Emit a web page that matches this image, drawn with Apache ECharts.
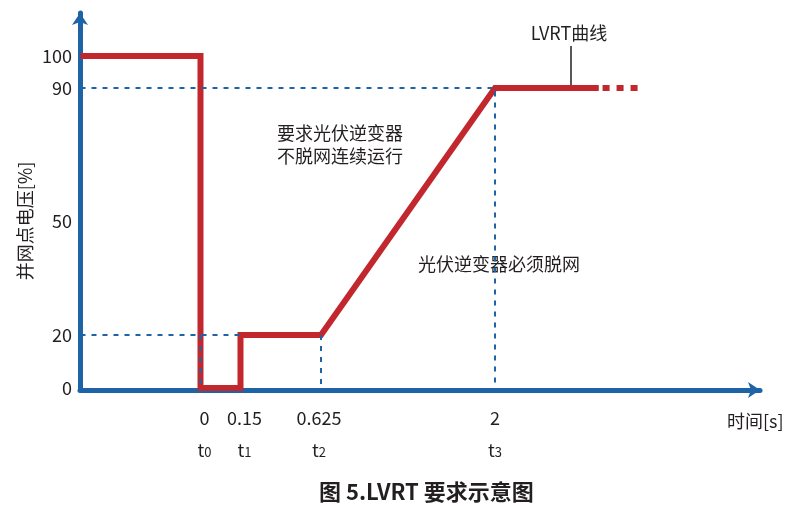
<!DOCTYPE html>
<html>
<head>
<meta charset="utf-8">
<script src="https://cdn.jsdelivr.net/npm/echarts@6/dist/echarts.min.js"></script>
<style>
html,body{margin:0;padding:0;background:#fff;}
#main{width:800px;height:507px;}
</style>
</head>
<body>
<div id="main"></div>
<script>
// tick labels
var timeTicks = [0, 0.15, 0.625, 2];
var timeTickText = ['0', '0.15', '0.625', '2'];
var timeTickSub = ['0', '1', '2', '3'];
var voltTicks = [0, 20, 50, 90, 100];

// LVRT curve: time [s], voltage [%]  (-0.45 = pre-fault, starts at the axis)
var lvrtT = [-0.45, 0, 0, 0.15, 0.15, 0.625, 2, 2.82];
var lvrtU = [100, 100, 0, 0, 20, 20, 90, 90];
var tailT = [2.85, 3.15];
var tailU = [90, 90];

// dashed guide lines
var guide90T = [-0.45, 2, 2];
var guide90U = [90, 90, 0];
var guide20T = [-0.45, 0.15];
var guide20U = [20, 20];
var guideT0T = [0, 0];
var guideT0U = [20, 0];
var guideT2T = [0.625, 0.625];
var guideT2U = [20, 0];

// the drawing is a sketch, not to scale: piecewise linear axes through the ticks
var timeAxisPos = [120.5, 160.5, 241, 415];
var voltAxisPos = [2, 55, 169, 302, 334];
var timeLabelShift = ['r', 'r', 'l', 'n'];

var blue = '#1d63a6';
var red = '#c1272d';
var ink = '#231f20';
var font = 'Noto Sans CJK SC';

function piece(v, ks, ps){
    var n = ks.length, i = 0;
    if (v >= ks[n-1]) i = n - 2;
    else if (v > ks[0]) { while (v > ks[i+1]) i++; }
    var r = ps[i] + (v - ks[i]) * (ps[i+1] - ps[i]) / (ks[i+1] - ks[i]);
    return Math.max(0, r);
}
function pts(ts, us){
    var out = [];
    for (var i = 0; i < ts.length; i++) {
        out.push([piece(ts[i], timeTicks, timeAxisPos), piece(us[i], voltTicks, voltAxisPos)]);
    }
    return out;
}
function findIdx(v, ps){
    for (var i = 0; i < ps.length; i++) if (Math.abs(ps[i] - v) < 0.5) return i;
    return -1;
}

var myChart = echarts.init(document.getElementById('main'));

function guide(ts, us){
    return {
        type: 'line',
        data: pts(ts, us),
        symbol: 'none',
        silent: true,
        z: 4,
        lineStyle: { color: blue, width: 2, type: [5, 6] }
    };
}

var richX = {};
['r', 'l', 'n'].forEach(function(k){
    var left = k == 'r' ? 8 : 0;
    var right = k == 'l' ? 4 : 0;
    richX['v' + k] = { fontFamily: font, fontSize: 18, color: ink, lineHeight: 32, padding: [0, right, 0, left] };
    richX['t' + k] = { fontFamily: font, fontSize: 18, color: ink, lineHeight: 32, padding: [0, 0, 0, left] };
    richX['s' + k] = { fontFamily: font, fontSize: 13, color: ink, lineHeight: 22, verticalAlign: 'middle', padding: [5, right, 0, 0] };
});

var option = {
    animation: false,
    backgroundColor: '#fff',
    textStyle: { fontFamily: font, color: ink },
    title: {
        text: '图 5.LVRT 要求示意图',
        left: 314,
        top: 476,
        textStyle: { fontFamily: font, fontSize: 22, fontWeight: 'bold', color: ink }
    },
    grid: { left: 80, right: 40, top: 13, bottom: 117 },
    xAxis: {
        type: 'value',
        min: 0,
        max: 680,
        splitLine: { show: false },
        axisTick: { show: false },
        axisLine: {
            lineStyle: { color: blue, width: 5 },
            symbol: ['none', 'arrow'],
            symbolSize: [12, 12]
        },
        axisLabel: {
            customValues: timeAxisPos,
            margin: 12,
            formatter: function(v){
                var i = findIdx(v, timeAxisPos);
                if (i < 0) return '';
                var k = timeLabelShift[i];
                return '{v' + k + '|' + timeTickText[i] + '}\n{t' + k + '|t}{s' + k + '|' + timeTickSub[i] + '}';
            },
            rich: richX
        }
    },
    yAxis: {
        type: 'value',
        min: 0,
        max: 377,
        splitLine: { show: false },
        axisTick: { show: false },
        axisLine: {
            lineStyle: { color: blue, width: 5 },
            symbol: ['none', 'arrow'],
            symbolSize: [12, 12]
        },
        axisLabel: {
            customValues: voltAxisPos,
            margin: 8,
            fontFamily: font,
            fontSize: 18,
            color: ink,
            formatter: function(v){
                var i = findIdx(v, voltAxisPos);
                return i < 0 ? '' : String(voltTicks[i]);
            }
        }
    },
    graphic: [
        { type: 'text', x: 25, y: 221, rotation: Math.PI / 2, style: { x: 0, y: 0, text: '并网点电压[%]', font: '18px "Noto Sans CJK SC"', fill: ink, textAlign: 'center', textVerticalAlign: 'middle' } },
        { type: 'text', style: { x: 569, y: 33, text: 'LVRT曲线', font: '18px "Noto Sans CJK SC"', fill: ink, textAlign: 'center', textVerticalAlign: 'middle' } },
        { type: 'line', shape: { x1: 571, y1: 46, x2: 571, y2: 86 }, style: { stroke: ink, lineWidth: 1.5 } },
        { type: 'text', style: { x: 277, y: 145, text: '要求光伏逆变器\n不脱网连续运行', font: '18px "Noto Sans CJK SC"', lineHeight: 23, fill: ink, textAlign: 'left', textVerticalAlign: 'middle' } },
        { type: 'text', style: { x: 418, y: 264, text: '光伏逆变器必须脱网', font: '18px "Noto Sans CJK SC"', fill: ink, textAlign: 'left', textVerticalAlign: 'middle' } },
        { type: 'text', style: { x: 727, y: 421, text: '时间[s]', font: '18px "Noto Sans CJK SC"', fill: ink, textAlign: 'left', textVerticalAlign: 'middle' } }
    ],
    series: [
        {
            name: 'LVRT曲线',
            type: 'line',
            data: pts(lvrtT, lvrtU),
            symbol: 'none',
            z: 3,
            lineStyle: { color: red, width: 6, join: 'miter', cap: 'butt' }
        },
        {
            type: 'line',
            data: pts(tailT, tailU),
            symbol: 'none',
            z: 3,
            lineStyle: { color: red, width: 6, type: [7, 7], cap: 'butt' }
        },
        guide(guide90T, guide90U),
        guide(guide20T, guide20U),
        guide(guideT0T, guideT0U),
        guide(guideT2T, guideT2U)
    ]
};
myChart.setOption(option);
</script>
</body>
</html>
